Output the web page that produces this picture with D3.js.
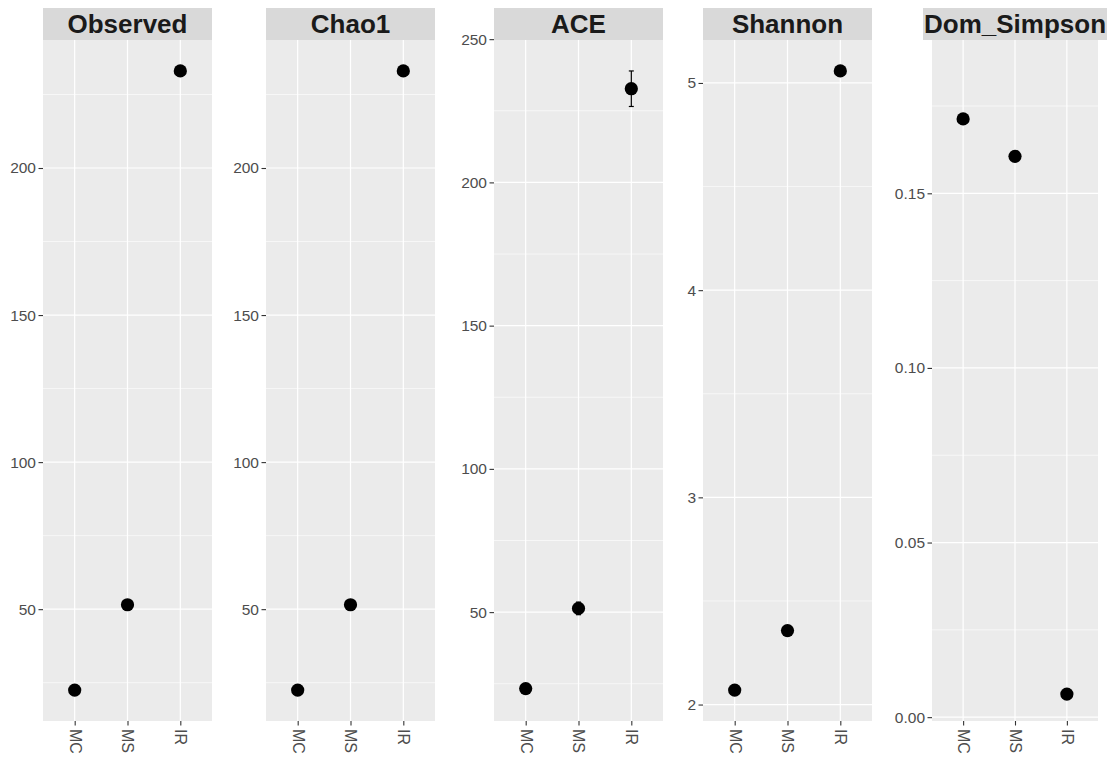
<!DOCTYPE html>
<html>
<head>
<meta charset="utf-8">
<script src="https://cdnjs.cloudflare.com/ajax/libs/d3/7.8.5/d3.min.js"></script>
<style>
  body { margin: 0; background: #fff; }
  svg { display: block; font-family: "Liberation Sans", Arial, sans-serif; }
</style>
</head>
<body>
<svg id="chart" width="1115" height="758"></svg>
<script>
'use strict';

// Data.
var groups = ['MC', 'MS', 'IR'];
var metrics = ['Observed', 'Chao1', 'ACE', 'Shannon', 'Dom_Simpson'];
var observed = [22.5, 51.5, 233];
var chao1 = [22.5, 51.5, 233];
var ace = [23.3, 51.3, 232.7];
var aceSe = [0.5, 2.2, 6.2];
var shannon = [2.07, 2.357, 5.058];
var domSimpson = [0.1713, 0.1606, 0.0066];
var tickValues = [
  [50, 100, 150, 200],
  [50, 100, 150, 200],
  [50, 100, 150, 200, 250],
  [2, 3, 4, 5],
  [0, 0.05, 0.10, 0.15]
];
var tickFormats = ['d', 'd', 'd', 'd', '.2f'];
// Dom_Simpson axis limits as drawn in the source figure (others auto).
var yLimits = [null, null, null, null, [-0.0011, 0.1939]];

var series = [observed, chao1, ace, shannon, domSimpson];
var errors = [null, null, aceSe, null, null];

// Layout
var panelLeft = [43, 266, 494, 703, 932],
    panelWidth = [169, 169, 169, 169, 166],
    stripTop = 8,
    panelTop = 40,
    panelBottom = 721;

var svg = d3.select('#chart');

metrics.forEach(function(name, i) {
  var vals = series[i],
      se = errors[i],
      x0 = panelLeft[i],
      w = panelWidth[i];

  var lo = d3.min(vals, function(v, j) { return se ? v - se[j] : v; }),
      hi = d3.max(vals, function(v, j) { return se ? v + se[j] : v; }),
      pad = (hi - lo) * 0.05,
      dom = yLimits[i] || [lo - pad, hi + pad];

  var x = d3.scalePoint().domain(groups).range([0, w]).padding(0.6);
  var y = d3.scaleLinear().domain(dom).range([panelBottom, panelTop]);

  var g = svg.append('g').attr('transform', 'translate(' + x0 + ',0)');

  // Panel background
  g.append('rect')
    .attr('x', 0).attr('y', panelTop)
    .attr('width', w).attr('height', panelBottom - panelTop)
    .attr('fill', '#ebebeb');

  // Minor horizontal grid (half-way between breaks)
  var ticks = tickValues[i],
      step = ticks[1] - ticks[0],
      minors = [];
  for (var k = -1; k < ticks.length + 1; k++) {
    var m = ticks[0] + (k + 0.5) * step;
    if (m > dom[0] && m < dom[1]) { minors.push(m); }
  }
  g.selectAll('.minor').data(minors).enter().append('line')
    .attr('class', 'minor')
    .attr('x1', 0).attr('x2', w)
    .attr('y1', function(d) { return y(d); })
    .attr('y2', function(d) { return y(d); })
    .attr('stroke', '#fff').attr('stroke-width', 0.6);

  // Major grid
  g.selectAll('.major').data(ticks).enter().append('line')
    .attr('class', 'major')
    .attr('x1', 0).attr('x2', w)
    .attr('y1', function(d) { return y(d); })
    .attr('y2', function(d) { return y(d); })
    .attr('stroke', '#fff').attr('stroke-width', 1.2);
  g.selectAll('.vmajor').data(groups).enter().append('line')
    .attr('class', 'vmajor')
    .attr('x1', function(d) { return x(d); })
    .attr('x2', function(d) { return x(d); })
    .attr('y1', panelTop).attr('y2', panelBottom)
    .attr('stroke', '#fff').attr('stroke-width', 1.2);

  // Error bars
  if (se) {
    var eb = g.selectAll('.err').data(groups).enter().append('g')
      .attr('class', 'err');
    eb.append('line')
      .attr('x1', function(d) { return x(d); })
      .attr('x2', function(d) { return x(d); })
      .attr('y1', function(d, j) { return y(vals[j] - se[j]); })
      .attr('y2', function(d, j) { return y(vals[j] + se[j]); })
      .attr('stroke', '#000').attr('stroke-width', 1.2);
    [-1, 1].forEach(function(sgn) {
      eb.append('line')
        .attr('x1', function(d) { return x(d) - 2.5; })
        .attr('x2', function(d) { return x(d) + 2.5; })
        .attr('y1', function(d, j) { return y(vals[j] + sgn * se[j]); })
        .attr('y2', function(d, j) { return y(vals[j] + sgn * se[j]); })
        .attr('stroke', '#000').attr('stroke-width', 1.2);
    });
  }

  // Points
  g.selectAll('.pt').data(groups).enter().append('circle')
    .attr('class', 'pt')
    .attr('cx', function(d) { return x(d); })
    .attr('cy', function(d, j) { return y(vals[j]); })
    .attr('r', 6.6)
    .attr('fill', '#000');

  // Y axis
  var yAxis = g.append('g')
    .call(d3.axisLeft(y).tickValues(ticks)
      .tickFormat(d3.format(tickFormats[i]))
      .tickSize(4.5).tickPadding(2.5));
  yAxis.select('.domain').remove();
  yAxis.selectAll('line').attr('stroke', '#333').attr('stroke-width', 1.1);
  yAxis.selectAll('text')
    .attr('fill', '#4d4d4d')
    .style('font-size', '15.5px');

  // X axis, labels rotated
  var xAxis = g.append('g')
    .attr('transform', 'translate(0,' + panelBottom + ')')
    .call(d3.axisBottom(x).tickSize(4.5).tickPadding(2));
  xAxis.select('.domain').remove();
  xAxis.selectAll('line').attr('stroke', '#333').attr('stroke-width', 1.1);
  xAxis.selectAll('text')
    .attr('fill', '#4d4d4d')
    .style('font-size', '16px')
    .attr('transform', 'rotate(90)')
    .attr('x', 8).attr('y', 0).attr('dy', '0.35em')
    .attr('text-anchor', 'start');

  // Strip
  var strip = g.append('g');
  var label = strip.append('text')
    .attr('x', w / 2).attr('y', 33)
    .attr('text-anchor', 'middle')
    .attr('font-weight', 'bold')
    .attr('fill', '#1a1a1a')
    .style('font-size', '26px')
    .text(name);
  var tw = label.node().getComputedTextLength() + 2,
      sw = Math.max(w, tw);
  strip.insert('rect', 'text')
    .attr('x', w / 2 - sw / 2).attr('y', stripTop)
    .attr('width', sw).attr('height', panelTop - stripTop)
    .attr('fill', '#d9d9d9');
});
</script>
</body>
</html>
